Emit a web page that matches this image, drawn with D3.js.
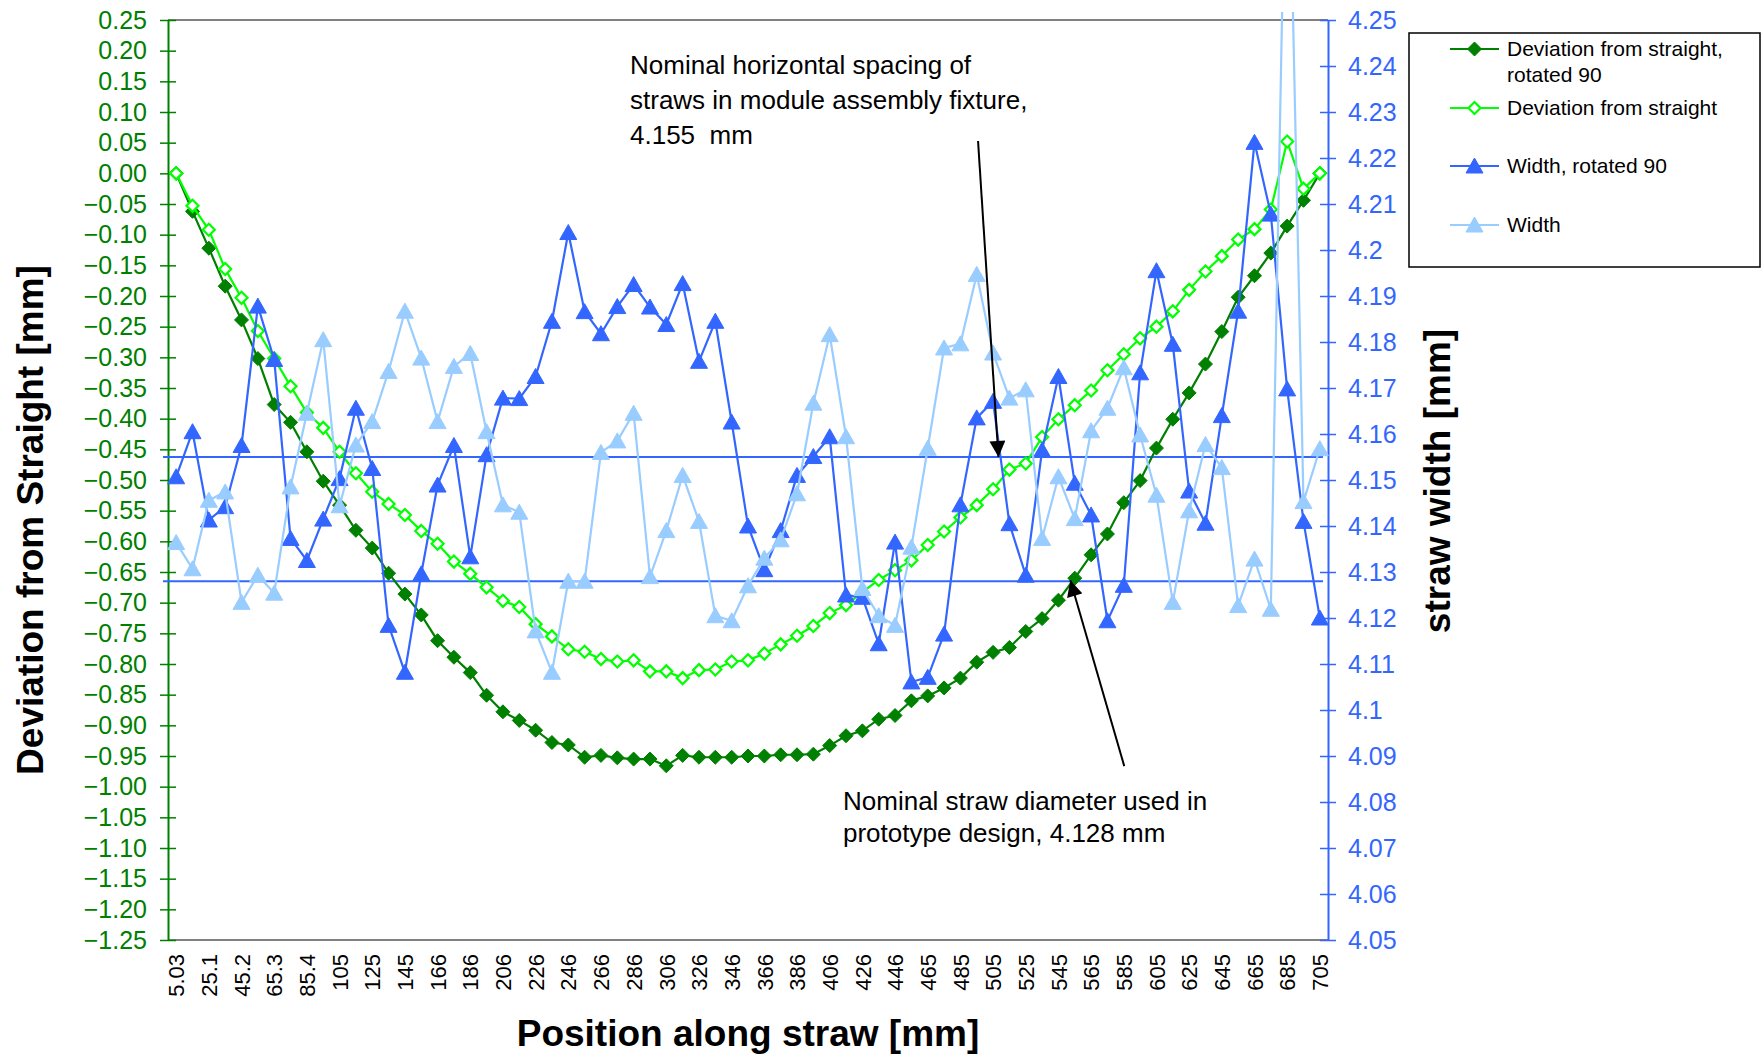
<!DOCTYPE html>
<html>
<head>
<meta charset="utf-8">
<script src="https://cdn.jsdelivr.net/npm/d3@7"></script>
<style>
  body { margin: 0; background: #fff; }
  text { font-family: Arial, "Liberation Sans", sans-serif; }
</style>
</head>
<body>
<div id="chart"></div>
<script>
// Position along straw (category axis)
const positions = ["5.03","15.1","25.1","35.2","45.2","55.3","65.3","75.3","85.4","95.4",
  "105","115","125","135","145","155","166","176","186","196",
  "206","216","226","236","246","256","266","276","286","296",
  "306","316","326","336","346","356","366","376","386","396",
  "406","416","426","436","446","455","465","475","485","495",
  "505","515","525","535","545","555","565","575","585","595",
  "605","615","625","635","645","655","665","675","685","695","705"];

// Deviation from straight, rotated 90 (left axis)
const devRotated = [0.000,-0.062,-0.122,-0.184,-0.239,-0.302,-0.377,-0.406,-0.454,-0.502,
  -0.541,-0.582,-0.611,-0.652,-0.686,-0.720,-0.762,-0.789,-0.814,-0.851,
  -0.878,-0.892,-0.908,-0.928,-0.932,-0.952,-0.949,-0.953,-0.955,-0.955,
  -0.966,-0.949,-0.952,-0.952,-0.952,-0.950,-0.950,-0.948,-0.948,-0.947,
  -0.933,-0.917,-0.909,-0.890,-0.884,-0.860,-0.852,-0.839,-0.823,-0.797,
  -0.781,-0.773,-0.747,-0.726,-0.696,-0.660,-0.622,-0.588,-0.537,-0.501,
  -0.448,-0.401,-0.358,-0.311,-0.258,-0.202,-0.167,-0.130,-0.086,-0.044,0.000];

// Deviation from straight (left axis)
const devStraight = [0.000,-0.053,-0.092,-0.156,-0.203,-0.257,-0.302,-0.347,-0.390,-0.415,
  -0.454,-0.489,-0.519,-0.539,-0.557,-0.583,-0.604,-0.633,-0.653,-0.675,
  -0.697,-0.707,-0.735,-0.755,-0.776,-0.780,-0.792,-0.796,-0.794,-0.812,
  -0.812,-0.823,-0.810,-0.809,-0.796,-0.794,-0.783,-0.768,-0.754,-0.738,
  -0.717,-0.704,-0.683,-0.663,-0.647,-0.631,-0.606,-0.584,-0.561,-0.541,
  -0.515,-0.483,-0.473,-0.430,-0.401,-0.378,-0.354,-0.321,-0.295,-0.269,
  -0.250,-0.225,-0.190,-0.160,-0.135,-0.108,-0.091,-0.059,0.052,-0.025,0.000];

// Width, rotated 90 (right axis)
const widthRotated = [4.1507,4.1605,4.1413,4.1442,4.1575,4.1878,4.1762,4.1373,4.1325,4.1415,
  4.1503,4.1656,4.1525,4.1184,4.1082,4.1296,4.1489,4.1575,4.1333,4.1555,
  4.1678,4.1677,4.1725,4.1845,4.2038,4.1866,4.1818,4.1877,4.1925,4.1876,
  4.1838,4.1927,4.1758,4.1845,4.1626,4.1400,4.1305,4.1390,4.1510,4.1551,
  4.1594,4.1250,4.1245,4.1144,4.1365,4.1061,4.1071,4.1165,4.1446,4.1635,
  4.1671,4.1405,4.1293,4.1565,4.1725,4.1493,4.1424,4.1194,4.1271,4.1733,
  4.1955,4.1795,4.1476,4.1406,4.1640,4.1867,4.2234,4.2078,4.1698,4.1410,4.1200];

// Width (right axis)
const widthStraight = [4.1364,4.1307,4.1456,4.1474,4.1234,4.1293,4.1254,4.1485,4.1645,4.1805,
  4.1444,4.1576,4.1627,4.1736,4.1867,4.1765,4.1627,4.1747,4.1775,4.1605,
  4.1446,4.1430,4.1172,4.1082,4.1280,4.1280,4.1560,4.1585,4.1645,4.1290,
  4.1390,4.1510,4.1410,4.1205,4.1194,4.1270,4.1330,4.1370,4.1470,4.1667,
  4.1816,4.1594,4.1264,4.1205,4.1184,4.1354,4.1569,4.1787,4.1796,4.1947,
  4.1776,4.1678,4.1696,4.1373,4.1507,4.1416,4.1607,4.1656,4.1744,4.1598,
  4.1467,4.1234,4.1433,4.1577,4.1527,4.1227,4.1328,4.1219,4.3100,4.1453,4.1568];

const leftTicks = [0.25,0.20,0.15,0.10,0.05,0.00,-0.05,-0.10,-0.15,-0.20,-0.25,-0.30,-0.35,-0.40,
  -0.45,-0.50,-0.55,-0.60,-0.65,-0.70,-0.75,-0.80,-0.85,-0.90,-0.95,-1.00,-1.05,-1.10,-1.15,-1.20,-1.25];
const rightTicks = [4.05,4.06,4.07,4.08,4.09,4.1,4.11,4.12,4.13,4.14,4.15,4.16,4.17,4.18,4.19,4.2,
  4.21,4.22,4.23,4.24,4.25];

// nominal reference widths
const nominalSpacing = 4.155;
const nominalDiameter = 4.128;

const width = 1763, height = 1055;
const plot = { left: 168, right: 1328, top: 20, bottom: 940 };

const svg = d3.select("#chart").append("svg")
  .attr("width", width).attr("height", height);

const x = d3.scalePoint().domain(positions).range([plot.left, plot.right]).padding(0.5);
const yL = d3.scaleLinear().domain([-1.25, 0.25]).range([plot.bottom, plot.top]);
const yR = d3.scaleLinear().domain([4.05, 4.25]).range([plot.bottom, plot.top]);
// fractional index -> x, for annotation arrows
const xi = d3.scaleLinear().domain([0, positions.length - 1])
  .range([x(positions[0]), x(positions[positions.length - 1])]);

const darkGreen = "#008000", brightGreen = "#00FF00", blue = "#3366FF", lightBlue = "#99CCFF";

// plot frame: top and bottom in grey
svg.append("line").attr("x1", plot.left).attr("x2", plot.right)
  .attr("y1", plot.top).attr("y2", plot.top).attr("stroke", "#808080").attr("stroke-width", 2);
svg.append("line").attr("x1", plot.left).attr("x2", plot.right)
  .attr("y1", plot.bottom).attr("y2", plot.bottom).attr("stroke", "#808080").attr("stroke-width", 2);

// left axis
const gL = svg.append("g").attr("transform", `translate(${plot.left},0)`)
  .call(d3.axisLeft(yL).tickValues(leftTicks).tickFormat(d3.format(".2f")).tickSizeInner(8).tickSizeOuter(0).tickPadding(12));
gL.select(".domain").attr("stroke", darkGreen).attr("stroke-width", 2);
gL.selectAll(".tick line").attr("stroke", darkGreen).attr("stroke-width", 1.5).attr("x2", 8).attr("x1", -8);
gL.selectAll(".tick text").attr("fill", darkGreen).style("font-size", "25px").attr("x", -21);

// right axis
const gR = svg.append("g").attr("transform", `translate(${plot.right},0)`)
  .call(d3.axisRight(yR).tickValues(rightTicks).tickFormat(d => String(d)).tickSizeInner(8).tickSizeOuter(0).tickPadding(12));
gR.select(".domain").attr("stroke", blue).attr("stroke-width", 2);
gR.selectAll(".tick line").attr("stroke", blue).attr("stroke-width", 1.5).attr("x1", -8).attr("x2", 8);
gR.selectAll(".tick text").attr("fill", blue).style("font-size", "25px").attr("x", 20);

// bottom category labels (every other category)
const gB = svg.append("g").attr("transform", `translate(0,${plot.bottom})`)
  .call(d3.axisBottom(x).tickValues(positions.filter((d, i) => i % 2 === 0)).tickSize(0));
gB.select(".domain").remove();
gB.selectAll(".tick text")
  .attr("transform", "rotate(-90)")
  .attr("x", -14).attr("y", 0).attr("dy", "0.35em")
  .style("text-anchor", "end").style("font-size", "22px").attr("fill", "#000");

// axis titles
svg.append("text").attr("transform", "translate(43,520) rotate(-90)")
  .style("text-anchor", "middle").style("font-size", "37px").style("font-weight", "bold")
  .text("Deviation from Straight [mm]");
svg.append("text").attr("transform", "translate(1450,481) rotate(-90)")
  .style("text-anchor", "middle").style("font-size", "37px").style("font-weight", "bold")
  .text("straw width [mm]");
svg.append("text").attr("x", 748).attr("y", 1046)
  .style("text-anchor", "middle").style("font-size", "37px").style("font-weight", "bold")
  .text("Position along straw [mm]");

// nominal reference lines
[nominalSpacing, nominalDiameter].forEach(v => {
  svg.append("line")
    .attr("x1", plot.left - 5).attr("x2", plot.right - 5)
    .attr("y1", yR(v)).attr("y2", yR(v))
    .attr("stroke", blue).attr("stroke-width", 2);
});

// series
svg.append("defs").append("clipPath").attr("id", "clip")
  .append("rect").attr("x", plot.left - 10).attr("y", plot.top - 8)
  .attr("width", plot.right - plot.left + 20).attr("height", plot.bottom - plot.top + 16);

const diamond = "M0,-7L7,0L0,7L-7,0Z";
const diamondOpen = "M0,-6L6,0L0,6L-6,0Z";
const triangle = "M0,-8L8.5,7L-8.5,7Z";

const series = [
  { name: "Deviation from straight, rotated 90", values: devRotated, y: yL, color: darkGreen, shape: diamond, fill: darkGreen },
  { name: "Deviation from straight", values: devStraight, y: yL, color: brightGreen, shape: diamondOpen, fill: "#fff" },
  { name: "Width, rotated 90", values: widthRotated, y: yR, color: blue, shape: triangle, fill: blue },
  { name: "Width", values: widthStraight, y: yR, color: lightBlue, shape: triangle, fill: lightBlue }
];

const gS = svg.append("g").attr("clip-path", "url(#clip)");
series.forEach(s => {
  const line = d3.line().x((d, i) => x(positions[i])).y(d => s.y(d));
  const g = gS.append("g");
  g.append("path").datum(s.values)
    .attr("d", line).attr("fill", "none")
    .attr("stroke", s.color).attr("stroke-width", 2.2);
  g.selectAll("path.mk").data(s.values).enter().append("path")
    .attr("class", "mk")
    .attr("d", s.shape)
    .attr("transform", (d, i) => `translate(${x(positions[i])},${s.y(d)})`)
    .attr("fill", s.fill).attr("stroke", s.color).attr("stroke-width", s.fill === "#fff" ? 2.2 : 1);
});

// legend
const lg = svg.append("g");
lg.append("rect").attr("x", 1409).attr("y", 33).attr("width", 351).attr("height", 234)
  .attr("fill", "#fff").attr("stroke", "#000").attr("stroke-width", 1.5);
const legendRows = [
  { lines: ["Deviation from straight,", "rotated 90"], y: 49 },
  { lines: ["Deviation from straight"], y: 108 },
  { lines: ["Width, rotated 90"], y: 166 },
  { lines: ["Width"], y: 225 }
];
series.forEach((s, i) => {
  const r = legendRows[i];
  lg.append("line").attr("x1", 1450).attr("x2", 1499).attr("y1", r.y).attr("y2", r.y)
    .attr("stroke", s.color).attr("stroke-width", 2.2);
  lg.append("path").attr("d", s.shape).attr("transform", `translate(1474.5,${r.y})`)
    .attr("fill", s.fill).attr("stroke", s.color).attr("stroke-width", s.fill === "#fff" ? 2.2 : 1);
  r.lines.forEach((t, k) => {
    lg.append("text").attr("x", 1507).attr("y", r.y + k * 26).attr("dy", "0.35em")
      .style("font-size", "21px").text(t);
  });
});

// annotations
svg.select("defs").append("marker").attr("id", "arrow")
  .attr("viewBox", "0 0 10 10").attr("refX", 10).attr("refY", 5)
  .attr("markerWidth", 9).attr("markerHeight", 8).attr("markerUnits", "strokeWidth")
  .attr("orient", "auto")
  .append("path").attr("d", "M0,0L10,5L0,10Z").attr("fill", "#000");

const arrows = [
  { from: [49.08, 4.2237], to: [50.33, 4.155] },
  { from: [58.03, 4.0878], to: [54.73, 4.1282] }
];
arrows.forEach(a => {
  svg.append("line")
    .attr("x1", xi(a.from[0])).attr("y1", yR(a.from[1]))
    .attr("x2", xi(a.to[0])).attr("y2", yR(a.to[1]))
    .attr("stroke", "#000").attr("stroke-width", 2)
    .attr("marker-end", "url(#arrow)");
});

const note1 = ["Nominal horizontal spacing of", "straws in module assembly fixture,", "4.155  mm"];
note1.forEach((t, k) => {
  svg.append("text").attr("x", 630).attr("y", 74 + k * 35)
    .style("font-size", "26px").style("white-space", "pre").text(t);
});
const note2 = ["Nominal straw diameter used in", "prototype design, 4.128 mm"];
note2.forEach((t, k) => {
  svg.append("text").attr("x", 843).attr("y", 810 + k * 32)
    .style("font-size", "26px").text(t);
});
</script>
</body>
</html>
